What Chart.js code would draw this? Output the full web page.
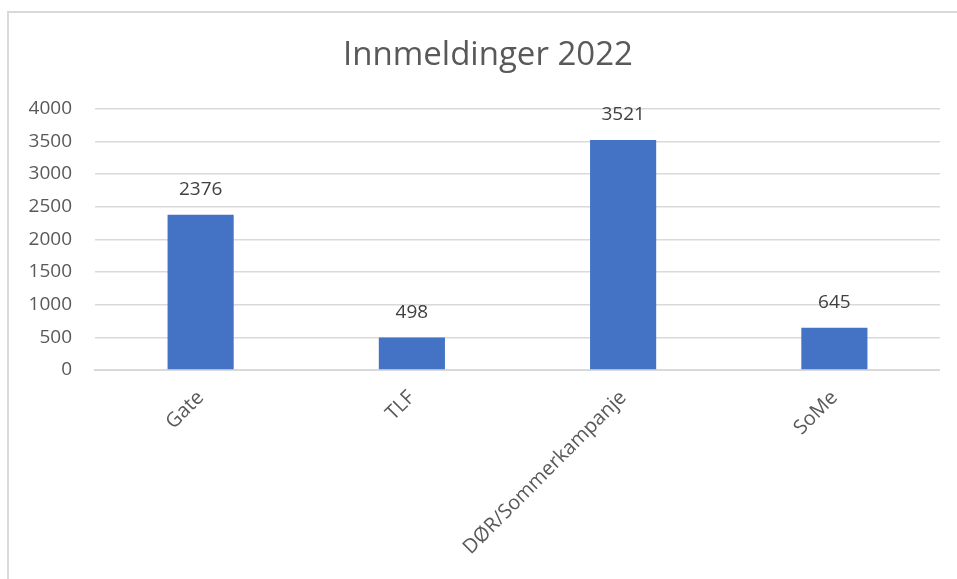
<!DOCTYPE html>
<html>
<head>
<meta charset="utf-8">
<script src="https://cdn.jsdelivr.net/npm/chart.js@4.4.1/dist/chart.umd.min.js"></script>
<style>
  html, body { margin: 0; padding: 0; background: #fff; overflow: hidden; }
  #frame {
    position: absolute; left: 7px; top: 11px; width: 960px; height: 580px;
    border-left: 2px solid #d9d9d9; border-top: 2px solid #d9d9d9;
  }
  #wrap { position: absolute; left: 8px; top: 12px; width: 932px; height: 567px; }
</style>
</head>
<body>
<div id="frame"></div>
<div id="wrap"><canvas id="innChart"></canvas></div>
<script>
// data
const categories = ["Gate", "TLF", "DØR/Sommerkampanje", "SoMe"];
const innmeldinger = [2376, 498, 3521, 645];
const yTicks = [0, 500, 1000, 1500, 2000, 2500, 3000, 3500, 4000];

const FONT = "'Open Sans', sans-serif";

// draws the value above each bar
const valueLabels = {
    id: "valueLabels",
    afterDatasetsDraw(chart) {
        const ctx = chart.ctx;
        const meta = chart.getDatasetMeta(0);
        ctx.save();
        ctx.font = "19px " + FONT;
        ctx.fillStyle = "#404040";
        ctx.textAlign = "center";
        ctx.textBaseline = "middle";
        meta.data.forEach((bar, i) => {
            ctx.fillText(chart.data.datasets[0].data[i], bar.x, bar.y - 25);
        });
        ctx.restore();
    },
};

// title is centred on the whole frame in the original, not on the plot
const titleShift = {
    id: "titleShift",
    afterLayout(chart) {
        chart.titleBlock.left += 18;
    },
};

const innConfig = {
    type: "bar",
    data: {
        labels: categories,
        datasets: [
            {
                label: "Innmeldinger",
                data: innmeldinger,
                backgroundColor: "#4472C4",
                categoryPercentage: 1,
                barPercentage: 0.313,
            },
        ],
    },
    options: {
        responsive: true,
        maintainAspectRatio: false,
        animation: false,
        layout: { padding: { left: 10, right: 0, top: 0, bottom: 0 } },
        plugins: {
            legend: { display: false },
            tooltip: { enabled: false },
            title: {
                display: true,
                text: "Innmeldinger 2022",
                color: "#595959",
                font: { family: FONT, size: 33, weight: "normal" },
                padding: { top: 24, bottom: 33 },
            },
        },
        scales: {
            x: {
                grid: { display: false, drawTicks: false },
                border: { display: true, color: "#d9d9d9", width: 2 },
                ticks: {
                    color: "#595959",
                    font: { family: FONT, size: 20 },
                    minRotation: 45,
                    maxRotation: 45,
                    padding: 16,
                },
                afterFit(scale) { scale.height = 209; },
            },
            y: {
                min: 0,
                max: 4000,
                afterBuildTicks(scale) { scale.ticks = yTicks.map(v => ({ value: v })); },
                grid: { color: "#d9d9d9", lineWidth: 1.5, drawTicks: false },
                border: { display: false },
                ticks: {
                    color: "#595959",
                    font: { family: FONT, size: 19 },
                    padding: 23,
                    callback: (v) => String(v),
                },
                afterFit(scale) { scale.width = 77; },
            },
        },
    },
    plugins: [valueLabels, titleShift],
};

window.innChart = new Chart(document.getElementById("innChart"), innConfig);
</script>
</body>
</html>
